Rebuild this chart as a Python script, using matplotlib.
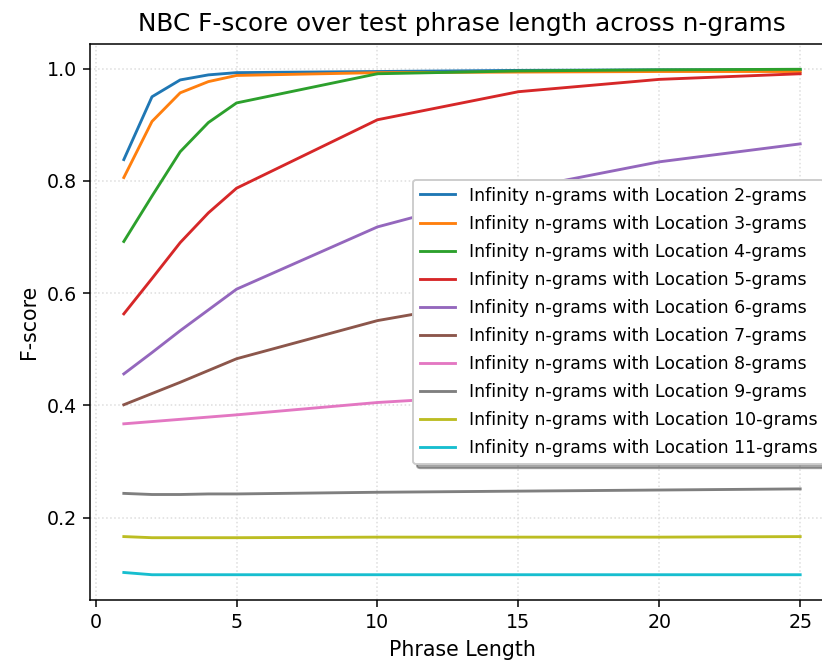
import matplotlib
matplotlib.use("Agg")
import matplotlib.pyplot as plt

# phrase lengths used at test time
phrase_len = [1, 2, 3, 4, 5, 10, 15, 20, 25]

# F-score per Location n-gram size (Infinity n-grams model)
f_2 = [0.838, 0.950, 0.980, 0.989, 0.993, 0.995, 0.997, 0.998, 0.998]
f_3 = [0.806, 0.906, 0.957, 0.977, 0.988, 0.993, 0.994, 0.995, 0.995]
f_4 = [0.692, 0.773, 0.852, 0.904, 0.939, 0.991, 0.996, 0.998, 0.999]
f_5 = [0.563, 0.626, 0.690, 0.743, 0.787, 0.909, 0.959, 0.981, 0.991]
f_6 = [0.456, 0.494, 0.533, 0.570, 0.607, 0.718, 0.785, 0.834, 0.866]
f_7 = [0.401, 0.421, 0.441, 0.462, 0.483, 0.551, 0.595, 0.625, 0.650]
f_8 = [0.367, 0.371, 0.375, 0.379, 0.383, 0.405, 0.420, 0.432, 0.442]
f_9 = [0.243, 0.241, 0.241, 0.242, 0.242, 0.245, 0.247, 0.249, 0.251]
f_10 = [0.166, 0.164, 0.164, 0.164, 0.164, 0.165, 0.165, 0.165, 0.166]
f_11 = [0.102, 0.098, 0.098, 0.098, 0.098, 0.098, 0.098, 0.098, 0.098]

loc_sizes = [2, 3, 4, 5, 6, 7, 8, 9, 10, 11]
scores = [f_2, f_3, f_4, f_5, f_6, f_7, f_8, f_9, f_10, f_11]

DPI = 137
fig = plt.figure(figsize=(822 / DPI, 664 / DPI), dpi=DPI)
# axes run a little past the right edge of the canvas
ax = fig.add_axes([90 / 822, 64 / 664, 744 / 822, 556 / 664])

for n, ys in zip(loc_sizes, scores):
    ax.plot(phrase_len, ys, label="Infinity n-grams with Location %d-grams" % n)

ax.grid(True, linestyle=":", color="#dddddd", linewidth=0.8)
ax.set_title("NBC F-score over test phrase length across n-grams", fontsize=13, pad=7)
ax.set_xlabel("Phrase Length", fontsize=10.8)
ax.set_ylabel("F-score", fontsize=10.8)
ax.legend(loc="center left", bbox_to_anchor=(323 / 744, 0.5), borderaxespad=0,
          fontsize=9.15, labelspacing=0.58, shadow=True, fancybox=True, framealpha=1)

fig.savefig("out.png", dpi=DPI)
